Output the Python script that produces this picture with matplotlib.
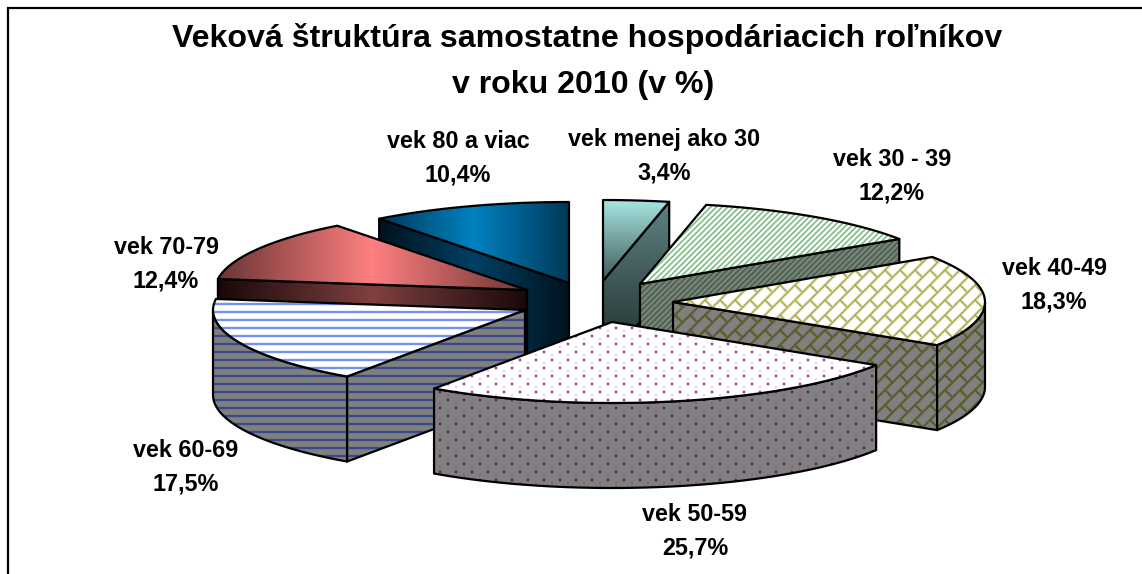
import numpy as np
import matplotlib
matplotlib.use("Agg")
import matplotlib.pyplot as plt
from matplotlib.patches import Polygon

# Data
labels = ["vek menej ako 30", "vek 30 - 39", "vek 40-49", "vek 50-59", "vek 60-69", "vek 70-79", "vek 80 a viac"]
values = [3.4, 12.2, 18.3, 25.7, 17.5, 12.4, 10.4]
value_texts = ["3,4%", "12,2%", "18,3%", "25,7%", "17,5%", "12,4%", "10,4%"]
title_lines = ["Veková štruktúra samostatne hospodáriacich roľníkov", "v roku 2010 (v %)"]

# Pie geometry, in pixels
W, H = 1142, 574
cx, cy = 586, 290
rx, ry = 312, 81
depth = 85
# how far each slice is pulled out of the pie
shift_x = [17, 54, 87, 26, -61, -59, -17]
shift_y = [-9, -6, 12, 32, 20, 0, -7]
label_x = [664, 892, 1054, 695, 186, 166, 458]
label_y = [156, 176, 285, 531, 467, 264, 158]
draw_order = [6, 5, 0, 1, 2, 4, 3]

xx, yy = np.meshgrid(np.arange(W) + 0.5, np.arange(H) + 0.5)


def blend(a, b, t):
    t = t[..., None]
    return np.array(a)[None, None, :] * (1 - t) + np.array(b)[None, None, :] * t


def rgb(h):
    return [int(h[i:i + 2], 16) / 255 for i in (0, 2, 4)]


def bump(d, w):
    return np.clip(1 - np.abs(d) / w, 0, 1)


def lines_mask(u, period, w):
    d = (u + period / 2) % period - period / 2
    return bump(d, w)


def dots_mask():
    m = np.zeros_like(xx)
    for ox, oy, r, s in [(0, 0, 2.0, 1.0), (8, 8, 2.0, 1.0), (8, 3, 1.1, 0.5), (0, 11, 1.1, 0.5)]:
        dx = (xx - ox + 8) % 16 - 8
        dy = (yy - oy + 8) % 16 - 8
        m = np.maximum(m, np.clip(1 - np.hypot(dx, dy) / r, 0, 1) * s * 1.5)
    return np.clip(m, 0, 1)


def brick_mask():
    u = xx + yy
    v = xx - yy
    m = lines_mask(u, 15, 2.6)
    # every row of bricks is moved by half a brick
    row = np.floor(u / 15)
    cross = lines_mask(v + 15 * row, 30, 2.6)
    return np.maximum(m, cross)


def textures(mask, ink, dark_ink):
    top = blend(rgb("ffffff"), rgb(ink), mask)
    side = blend(rgb("808080"), rgb(dark_ink), mask)
    return top, side


def angles():
    frac = np.cumsum([0] + values) / np.sum(values)
    return frac * 2 * np.pi


def rim(ax_, ay, t0, t1):
    t = np.linspace(t0, t1, max(int(np.degrees(t1 - t0) / 2), 2))
    return np.c_[ax_ + rx * np.sin(t), ay - ry * np.cos(t)]


def paint(ax, pts, image):
    im = ax.imshow(image, extent=(0, W, H, 0), interpolation="nearest", zorder=paint.z)
    pg = Polygon(pts, closed=True, transform=ax.transData)
    im.set_clip_path(pg)
    ax.add_patch(Polygon(pts, closed=True, fill=False, ec="black", lw=1.6, joinstyle="round", zorder=paint.z + 0.5))
    paint.z += 1


paint.z = 1


def hgrad(pts, edge, mid):
    x0, x1 = pts[:, 0].min(), pts[:, 0].max()
    t = 1 - np.abs((xx - (x0 + x1) / 2) / ((x1 - x0) / 2))
    return blend(rgb(edge), rgb(mid), np.clip(t, 0, 1))


def vgrad(y0, y1, c0, c1):
    return blend(rgb(c0), rgb(c1), np.clip((yy - y0) / (y1 - y0), 0, 1))


th = angles()

green_top, green_side = textures(lines_mask(xx + yy, 5.7, 2.0), "64b06c", "336038")
brick_top, brick_side = textures(brick_mask(), "a8a840", "55551a")
dots_top, dots_side = textures(dots_mask(), "a838a8", "701870")
blue_top, blue_side = textures(lines_mask(yy, 8, 1.7), "3c64e8", "1c3490")

fig = plt.figure(figsize=(W / 100, H / 100), dpi=100)
ax = fig.add_axes([0, 0, 1, 1])

for i in draw_order:
    t0, t1 = th[i], th[i + 1]
    ax_, ay = cx + shift_x[i], cy + shift_y[i]
    arc = rim(ax_, ay, t0, t1)
    top = np.vstack([[ax_, ay], arc])
    down = np.array([0, depth])

    # radial wall, seen only on one side of the pie
    if t1 < np.pi:
        p = arc[-1]
    elif t0 > np.pi:
        p = arc[0]
    else:
        p = None
    wall = None
    if p is not None:
        wall = np.array([[ax_, ay], p, p + down, [ax_, ay + depth]])

    # outer wall, only the front half of the rim
    a, b = max(t0, np.pi / 2), min(t1, 1.5 * np.pi)
    outer = None
    if b > a:
        r = rim(ax_, ay, a, b)
        outer = np.vstack([r, r[::-1] + down])

    if i == 0:
        paint(ax, wall, vgrad(203, 366, "5c8280", "1e2a2a"))
        paint(ax, top, vgrad(201, 281, "a6e4e0", "3f5a5a"))
    elif i == 1:
        paint(ax, wall, green_side)
        paint(ax, top, green_top)
    elif i == 2:
        paint(ax, wall, brick_side)
        paint(ax, outer, brick_side)
        paint(ax, top, brick_top)
    elif i == 3:
        paint(ax, outer, dots_side)
        paint(ax, top, dots_top)
    elif i == 4:
        paint(ax, wall, blue_side)
        paint(ax, outer, blue_side)
        paint(ax, top, blue_top)
    elif i == 5:
        paint(ax, wall, hgrad(wall, "180808", "804040"))
        paint(ax, top, hgrad(top, "6a3434", "ff8080"))
    elif i == 6:
        paint(ax, wall, hgrad(wall, "00121e", "004064"))
        paint(ax, top, hgrad(top, "003858", "0082c0"))

ax.set_xlim(0, W)
ax.set_ylim(H, 0)
ax.axis("off")

# chart frame, the right and bottom sides are cut off
ax.plot([8, 8, W], [H, 7.5, 7.5], color="black", lw=1.6, zorder=50, solid_joinstyle="miter")

font = "Liberation Sans"
ax.text(587, 38, title_lines[0], ha="center", va="center", fontsize=23.1, fontweight="bold", family=font, zorder=60)
ax.text(583, 85, title_lines[1], ha="center", va="center", fontsize=23.1, fontweight="bold", family=font, zorder=60)

for i in range(len(labels)):
    ax.text(label_x[i], label_y[i], labels[i] + "\n" + value_texts[i], ha="center", va="center",
            fontsize=16.8, fontweight="bold", family=font, linespacing=1.6, zorder=60)

fig.savefig("out.png", dpi=100)
